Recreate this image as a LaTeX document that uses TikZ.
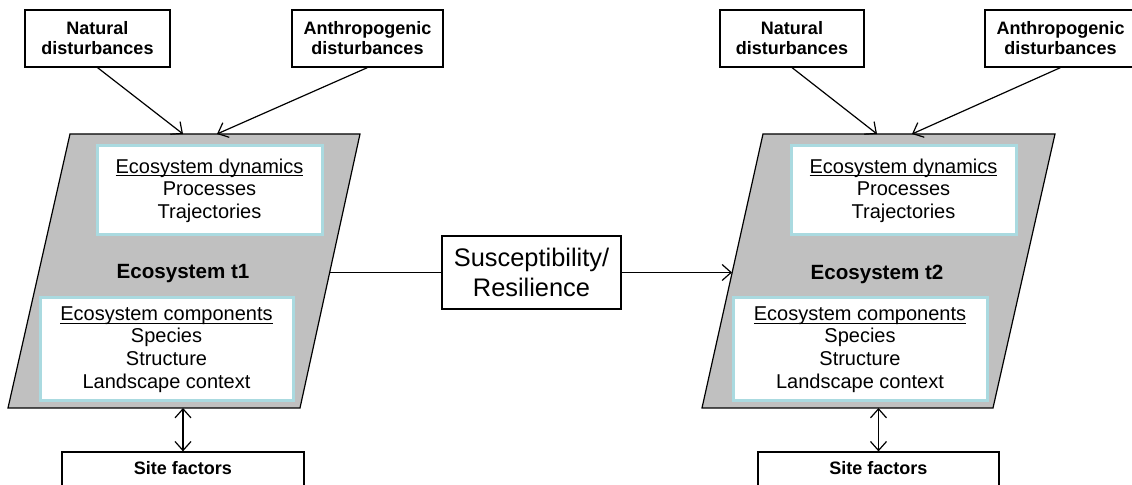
\documentclass[tikz,border=0pt]{standalone}
\usepackage{fontspec}
\setmainfont{Liberation Sans}
\usepackage{tikz}
\usetikzlibrary{arrows.meta, positioning, calc}
\definecolor{paragray}{RGB}{192,192,192}
\definecolor{boxblue}{RGB}{170,218,224}
\newcommand{\headline}[1]{\underline{\smash{#1}}\vphantom{#1}}

\begin{document}
\begin{tikzpicture}[x=0.5pt, y=-0.5pt, line width=0.6pt, >={Straight Barb[length=4.5pt,width=8pt]},
	dist/.style={draw, align=center, font=\fontsize{9}{10}\selectfont\bfseries, minimum height=28.5pt, inner sep=1pt},
	inbox/.style={draw=boxblue, line width=1.5pt, fill=white, align=center, font=\fontsize{10}{11.3}\selectfont, inner sep=1pt},
	para/.style={draw, fill=paragray}]
	\clip (0,0) rectangle (1132,485);
	\filldraw[para] (70,134) -- (360,134) -- (300,408) -- (8,408) -- cycle;
	\filldraw[para] (763,134) -- (1055,134) -- (993,408) -- (702,408) -- cycle;
	\node[dist, minimum width=72.5pt] (nat1) at (97.5,38.5) {Natural\\disturbances};
	\node[dist, minimum width=75.5pt] (ant1) at (367.5,38.5) {Anthropogenic\\disturbances};
	\node[dist, minimum width=72pt] (nat2) at (792,38.5) {Natural\\disturbances};
	\node[dist, minimum width=75.5pt] (ant2) at (1060.5,38.5) {Anthropogenic\\disturbances};
	\node[inbox, minimum width=112.5pt, minimum height=44.5pt] (dyn1) at (209.5,190.5) {\headline{Ecosystem dynamics}\\Processes\\Trajectories};
	\node[inbox, minimum width=112.5pt, minimum height=44.5pt] (dyn2) at (903.5,190.5) {\headline{Ecosystem dynamics}\\Processes\\Trajectories};
	\node[font=\fontsize{10.3}{12}\selectfont\bfseries] (eco1) at (183,274) {Ecosystem t1};
	\node[font=\fontsize{10.3}{12}\selectfont\bfseries] (eco2) at (877,274) {Ecosystem t2};
	\node[inbox, minimum width=126.5pt, minimum height=51.5pt] (comp1) at (166.5,349.5) {\headline{Ecosystem components}\\Species\\Structure\\Landscape context};
	\node[inbox, minimum width=127pt, minimum height=51.5pt] (comp2) at (860,349.5) {\headline{Ecosystem components}\\Species\\Structure\\Landscape context};
	\node[dist, minimum width=121pt, minimum height=21.5pt, text depth=6pt] (site1) at (183,473.5) {Site factors};
	\node[dist, minimum width=120.5pt, minimum height=21.5pt, text depth=6pt] (site2) at (878.5,473.5) {Site factors};
	\node[draw, align=center, font=\fontsize{12.7}{15}\selectfont, minimum width=89.5pt, minimum height=36.5pt, inner sep=1pt] (sus) at (531.5,272.5) {Susceptibility/\\Resilience};
	\coordinate (top1a) at (183,134);
	\coordinate (top1b) at (217,134);
	\coordinate (top2a) at (877,134);
	\coordinate (top2b) at (912,134);
	\coordinate (out1) at (330,272.5);
	\coordinate (in2) at (732,272.5);
	\coordinate (bot1) at (183,408);
	\coordinate (bot2) at (878.5,408);
	\draw[->] (nat1.south) -- (top1a);
	\draw[->] (ant1.south) -- (top1b);
	\draw[->] (nat2.south) -- (top2a);
	\draw[->] (ant2.south) -- (top2b);
	\draw (out1) -- (sus.west);
	\draw[->] (sus.east) -- (in2);
	\draw[<->] (bot1) -- (site1.north);
	\draw[<->] (bot2) -- (site2.north);
\end{tikzpicture}
\end{document}
